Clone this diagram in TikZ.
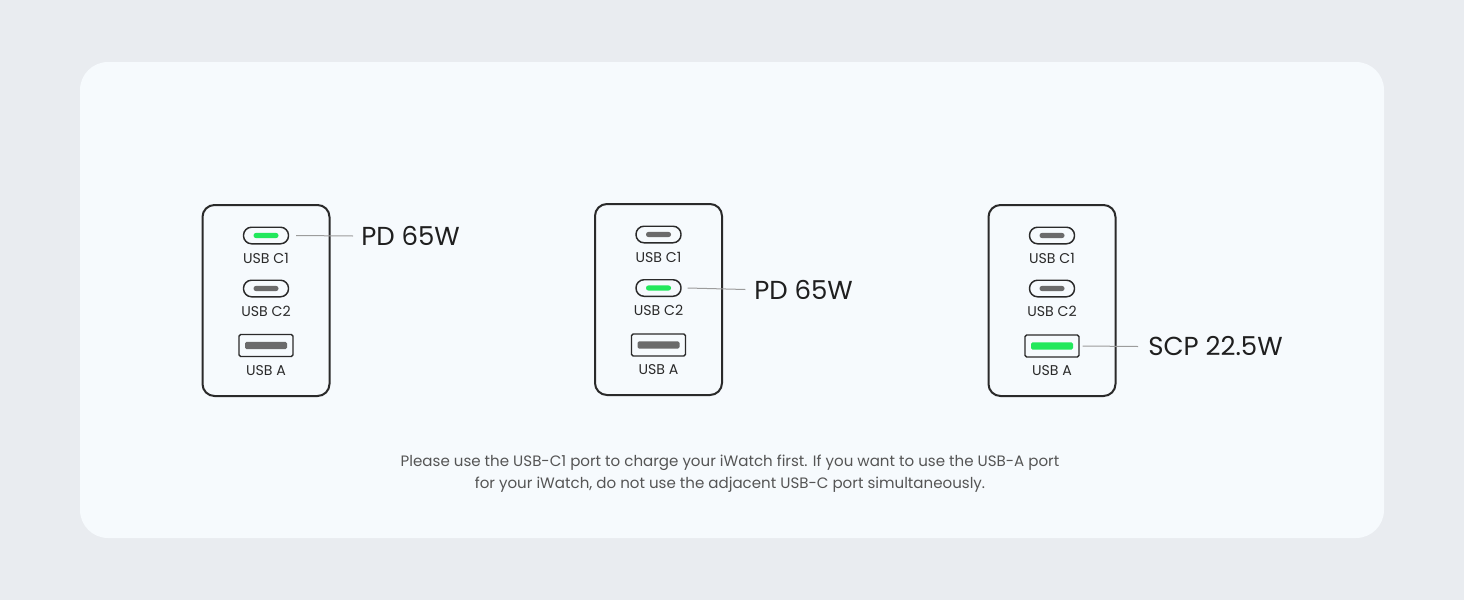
\documentclass[tikz,border=0pt]{standalone}
\usepackage{fontspec}
\setmainfont{Poppins}

\definecolor{pagebg}{HTML}{E9ECF0}
\definecolor{panelbg}{HTML}{F6FAFD}
\definecolor{inkdark}{HTML}{2A2A2A}
\definecolor{bargray}{HTML}{6B6B6B}
\definecolor{litgreen}{HTML}{22E85C}
\definecolor{leadgray}{HTML}{9C9C9C}
\definecolor{notegray}{HTML}{555555}

\tikzset{
  charger/.style={draw=inkdark, line width=1.5pt, rounded corners=9pt, minimum width=95.25pt, minimum height=143.25pt, inner sep=0pt},
  cport/.style={draw=inkdark, line width=1.1pt, rounded corners=6pt, minimum width=33.75pt, minimum height=12.4pt, inner sep=0pt},
  aport/.style={draw=inkdark, line width=1.1pt, rounded corners=1.2pt, minimum width=40.5pt, minimum height=16.5pt, inner sep=0pt},
  cbar/.style={fill=#1, rounded corners=1.8pt, minimum width=18.75pt, minimum height=3.8pt, inner sep=0pt},
  abar/.style={fill=#1, rounded corners=1pt, minimum width=31.5pt, minimum height=5.3pt, inner sep=0pt},
  portlabel/.style={font=\fontsize{10.6}{12}\selectfont, text=inkdark, inner sep=0pt},
  powerlabel/.style={font=\fontsize{19.5}{22}\selectfont, text=black!88, anchor=west, inner sep=0pt},
  leader/.style={draw=leadgray, line width=0.75pt},
}

\begin{document}
\begin{tikzpicture}[x=0.75pt,y=0.75pt,yscale=-1,xscale=1]
%set diagram to 1464 x 600
\fill[pagebg] (0,0) rectangle (1464,600);
\useasboundingbox (0,0) rectangle (1464,600);

%Shape: Panel
\fill[panelbg, rounded corners=21pt] (80,62) rectangle (1384,538);

%Shape: Charger 1 (USB C1 lit)
\node[charger] (box1) at (266,300.5) {};
\node[cport] (c1a) at (266,235.5) {};
\node[cbar=litgreen] (c1abar) at (c1a) {};
\node[portlabel] (c1alab) at (266,258) {USB C1};
\node[cport] (c2a) at (266,288.5) {};
\node[cbar=bargray] (c2abar) at (c2a) {};
\node[portlabel] (c2alab) at (266,311) {USB C2};
\node[aport] (ua) at (266,345.5) {};
\node[abar=bargray] (uabar) at (ua) {};
\node[portlabel] (ualab) at (266,370.5) {USB A};

%Shape: Charger 2 (USB C2 lit)
\node[charger] (box2) at (658.5,299.5) {};
\node[cport] (c1b) at (658.5,234.5) {};
\node[cbar=bargray] (c1bbar) at (c1b) {};
\node[portlabel] (c1blab) at (658.5,257) {USB C1};
\node[cport] (c2b) at (658.5,288) {};
\node[cbar=litgreen] (c2bbar) at (c2b) {};
\node[portlabel] (c2blab) at (658.5,310.5) {USB C2};
\node[aport] (ub) at (658.5,345) {};
\node[abar=bargray] (ubbar) at (ub) {};
\node[portlabel] (ublab) at (658.5,370) {USB A};

%Shape: Charger 3 (USB A lit)
\node[charger] (box3) at (1052,300.5) {};
\node[cport] (c1c) at (1052,235.5) {};
\node[cbar=bargray] (c1cbar) at (c1c) {};
\node[portlabel] (c1clab) at (1052,258) {USB C1};
\node[cport] (c2c) at (1052,288.5) {};
\node[cbar=bargray] (c2cbar) at (c2c) {};
\node[portlabel] (c2clab) at (1052,311) {USB C2};
\node[aport] (uc) at (1052,346) {};
\node[abar=litgreen] (ucbar) at (uc) {};
\node[portlabel] (uclab) at (1052,371) {USB A};

% Text Node
\node[powerlabel] (pd1) at (361,236) {PD 65W};
% Text Node
\node[powerlabel] (pd2) at (754,289.5) {PD 65W};
% Text Node
\node[powerlabel] (scp) at (1148,346.5) {SCP 22.5W};

%Straight Lines
\draw[leader] ([xshift=5.25pt]c1a.east) -- ([xshift=-6pt]pd1.west);
\draw[leader] ([xshift=4.5pt]c2b.east) -- ([xshift=-6.5pt]pd2.west);
\draw[leader] ([xshift=2.25pt]uc.east) -- ([xshift=-7.5pt]scp.west);

% Text Node
\node[font=\fontsize{11.3}{16.5}\selectfont, text=notegray, align=center, inner sep=0pt] (note) at (730,474) {Please use the USB-C1 port to charge your iWatch first. If you want to use the USB-A port\\for your iWatch, do not use the adjacent USB-C port simultaneously.};

\end{tikzpicture}
\end{document}
